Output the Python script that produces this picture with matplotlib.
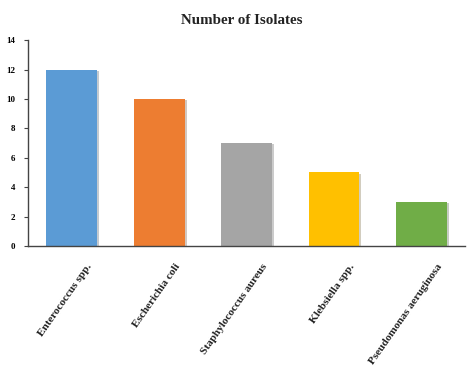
import matplotlib
matplotlib.use("Agg")
import matplotlib.pyplot as plt
import matplotlib.patheffects as pe
import matplotlib.transforms as mtransforms

categories = ["Enterococcus spp.", "Escherichia coli", "Staphylococcus aureus",
              "Klebsiella spp.", "Pseudomonas aeruginosa"]
values = [12, 10, 7, 5, 3]
colors = ["#5B9BD5", "#ED7D31", "#A5A5A5", "#FFC000", "#70AD47"]
yticks = [0, 2, 4, 6, 8, 10, 12, 14]

plt.rcParams['font.family'] = ['Liberation Serif', 'DejaVu Serif']

fig = plt.figure(figsize=(4.67, 3.68), dpi=100)
ax = fig.add_axes([0.06, 0.3315, 0.936, 0.5595])

bars = ax.bar(range(len(categories)), values, width=0.58, color=colors, zorder=2)
for b in bars:
    b.set_path_effects([pe.SimplePatchShadow(offset=(1.5, -1), alpha=0.25), pe.Normal()])

ax.set_xlim(-0.5, 4.5)
ax.set_ylim(0, 14)
ax.set_yticks(yticks)
ax.set_yticklabels([str(v) for v in yticks], fontsize=6.5, fontweight='bold')
ax.set_xticks(range(len(categories)))
ax.set_xticklabels(categories, rotation=55, ha='right', rotation_mode='anchor',
                   fontsize=8.1, fontweight='bold', color='#222222')
ax.tick_params(axis='x', length=0, pad=10)
ax.tick_params(axis='y', length=3, width=0.8, color='#444444', pad=6)

offset = mtransforms.ScaledTranslation(15 / 100, -2 / 100, fig.dpi_scale_trans)
for lab in ax.get_xticklabels():
    lab.set_transform(lab.get_transform() + offset)

for s in ['top', 'right']:
    ax.spines[s].set_visible(False)
for s in ['left', 'bottom']:
    ax.spines[s].set_color('#444444')
    ax.spines[s].set_linewidth(1.0)

fig.text(0.517, 0.945, "Number of Isolates", ha='center', va='center',
         fontsize=10.8, fontweight='bold', color='#222222')

fig.savefig("out.png", dpi=100)
